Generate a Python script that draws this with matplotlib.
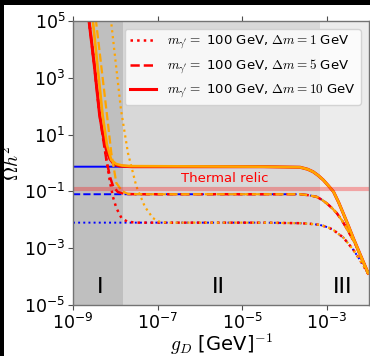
import numpy as np
import matplotlib
matplotlib.use("Agg")
import matplotlib.pyplot as plt
from matplotlib.patches import Rectangle

plt.rcParams['mathtext.fontset'] = 'cm'
plt.rcParams['font.family'] = ['DejaVu Sans']

# ---- data (log10 values) ----
# common plateau + high-coupling tail for each mass splitting
tail_lg_10 = [-4.5, -3.63, -3.45, -3.32, -3.20, -3.08, -2.96, -2.84, -2.72, -2.61, -2.49, -2.37, -2.20, -2.02]
tail_lo_10 = [-0.13, -0.15, -0.22, -0.31, -0.44, -0.60, -0.80, -1.01, -1.38, -1.77, -2.20, -2.65, -3.25, -3.88]
tail_lg_5 = [-4.5, -3.63, -3.45, -3.24, -3.12, -3.00, -2.88, -2.76, -2.64, -2.53, -2.33, -2.18, -2.02]
tail_lo_5 = [-1.10, -1.10, -1.13, -1.19, -1.29, -1.42, -1.58, -1.77, -2.02, -2.30, -2.83, -3.35, -3.88]
tail_lg_1 = [-4.5, -3.63, -3.40, -3.16, -2.96, -2.84, -2.72, -2.61, -2.50, -2.37, -2.25, -2.13, -2.02]
tail_lo_1 = [-2.10, -2.12, -2.14, -2.18, -2.27, -2.36, -2.50, -2.62, -2.82, -3.06, -3.33, -3.62, -3.90]

# blue: constant start from left edge
blue_lg_start = [-9.0]

# red (steep low-coupling part)
red_lg_10 = [-8.66, -8.62, -8.50, -8.37, -8.29, -8.21, -8.125, -8.03, -7.89, -7.60]
red_lo_10 = [5.5, 5.0, 3.5, 1.69, 0.99, 0.46, 0.14, -0.04, -0.11, -0.13]
red_lg_5 = [-8.66, -8.62, -8.50, -8.37, -8.29, -8.21, -8.125, -8.05, -7.94, -7.77, -7.50]
red_lo_5 = [5.5, 5.0, 3.5, 1.69, 0.88, 0.11, -0.49, -0.83, -1.02, -1.09, -1.10]
red_lg_1 = [-8.66, -8.62, -8.50, -8.37, -8.21, -8.125, -8.054, -7.976, -7.853, -7.72, -7.53, -7.2]
red_lo_1 = [5.5, 5.0, 3.5, 1.69, 0.11, -0.67, -1.20, -1.58, -1.94, -2.06, -2.10, -2.10]

# orange
org_lg_10 = [-8.57, -8.53, -8.30, -8.196, -8.094, -7.98, -7.84, -7.65]
org_lo_10 = [5.5, 5.0, 1.69, 0.63, 0.106, -0.035, -0.088, -0.11]
org_lg_5 = [-8.50, -8.456, -8.196, -8.094, -7.976, -7.84, -7.70, -7.4]
org_lo_5 = [5.5, 5.0, 1.69, 0.35, -0.70, -0.99, -1.09, -1.10]
org_lg_1 = [-8.14, -8.10, -7.865, -7.70, -7.57, -7.50, -7.30, -7.11, -6.94, -6.71]
org_lo_1 = [5.5, 5.0, 1.87, 0.35, -0.42, -0.83, -1.54, -1.94, -2.08, -2.10]

relic = 0.12
region_edges = [1e-9, 1.55e-8, 6.95e-4, 1e-2]
region_labels = ['I', 'II', 'III']
region_label_x = [10**-8.36, 10**-5.56, 10**-2.62]
region_alpha = [0.5, 0.3, 0.15]
legend_labels = [r'$m_{\gamma^\prime} =$ 100 GeV, $\Delta m = 1$ GeV',
                 r'$m_{\gamma^\prime} =$ 100 GeV, $\Delta m = 5$ GeV',
                 r'$m_{\gamma^\prime} =$ 100 GeV, $\Delta m = 10$ GeV']

def curve(head_lg, head_lo, tl_lg, tl_lo):
    lg = np.array(list(head_lg) + list(tl_lg))
    lo = np.array(list(head_lo) + list(tl_lo))
    return 10**lg, 10**lo

fig = plt.figure(figsize=(3.70, 3.56), dpi=100)
fig.patch.set_facecolor('black')
fig.patches.append(Rectangle((4/370, 0), 1, 1 - 4.5/356, transform=fig.transFigure,
                             facecolor='white', edgecolor='none', zorder=-10))
ax = fig.add_axes([73/370, 1 - 305/356, (369 - 73)/370, (305 - 21)/356])

for i in range(3):
    ax.axvspan(region_edges[i], region_edges[i+1], color='gray', alpha=region_alpha[i], lw=0)

tails = {1: (tail_lg_1, tail_lo_1), 5: (tail_lg_5, tail_lo_5), 10: (tail_lg_10, tail_lo_10)}
styles = {1: ':', 5: '--', 10: '-'}
blue_lo = {1: tail_lo_1[0], 5: tail_lo_5[0], 10: tail_lo_10[0]}
reds = {1: (red_lg_1, red_lo_1), 5: (red_lg_5, red_lo_5), 10: (red_lg_10, red_lo_10)}
orgs = {1: (org_lg_1, org_lo_1), 5: (org_lg_5, org_lo_5), 10: (org_lg_10, org_lo_10)}

for dm in [1, 5, 10]:
    tl = tails[dm]
    x, y = curve(blue_lg_start, [blue_lo[dm]], tl[0], tl[1])
    ax.plot(x, y, color='blue', ls=styles[dm], lw=1.4)
handles = []
for dm, lab in zip([1, 5, 10], legend_labels):
    tl = tails[dm]
    x, y = curve(reds[dm][0], reds[dm][1], tl[0], tl[1])
    h, = ax.plot(x, y, color='red', ls=styles[dm], lw=1.8 if dm != 10 else 2.2, label=lab)
    handles.append(h)
for dm in [1, 5, 10]:
    tl = tails[dm]
    x, y = curve(orgs[dm][0], orgs[dm][1], tl[0], tl[1])
    ax.plot(x, y, color='orange', ls=styles[dm], lw=1.6 if dm != 10 else 1.9)

ax.axhline(relic, color='red', alpha=0.3, lw=3)
ax.text(10**-5.40, 10**-0.53, 'Thermal relic', color='red', fontsize=9.5, ha='center', va='center')
for xl, lab in zip(region_label_x, region_labels):
    ax.text(xl, 10**-4.36, lab, fontsize=16, ha='center', va='center')

ax.set_xscale('log')
ax.set_yscale('log')
ax.set_xlim(1e-9, 1e-2)
ax.set_ylim(1e-5, 1e5)
ax.set_xticks([1e-9, 1e-7, 1e-5, 1e-3])
ax.set_yticks([1e-5, 1e-3, 1e-1, 1e1, 1e3, 1e5])
ax.minorticks_off()
ax.tick_params(axis='both', which='major', labelsize=12.5, direction='out', length=3.5, width=0.8,
               top=True, right=True, color='0.3', pad=2)
for s in ax.spines.values():
    s.set_color('0.45')
    s.set_linewidth(1.0)
ax.set_xlabel(r'$g_D$ [GeV]$^{-1}$', fontsize=14, labelpad=-1)
ax.set_ylabel(r'$\Omega h^2$', fontsize=14, labelpad=1)
ax.legend(handles=handles, loc='upper right', fontsize=9.5, borderaxespad=0.6)

fig.savefig('out.png', dpi=100, facecolor=fig.get_facecolor())
